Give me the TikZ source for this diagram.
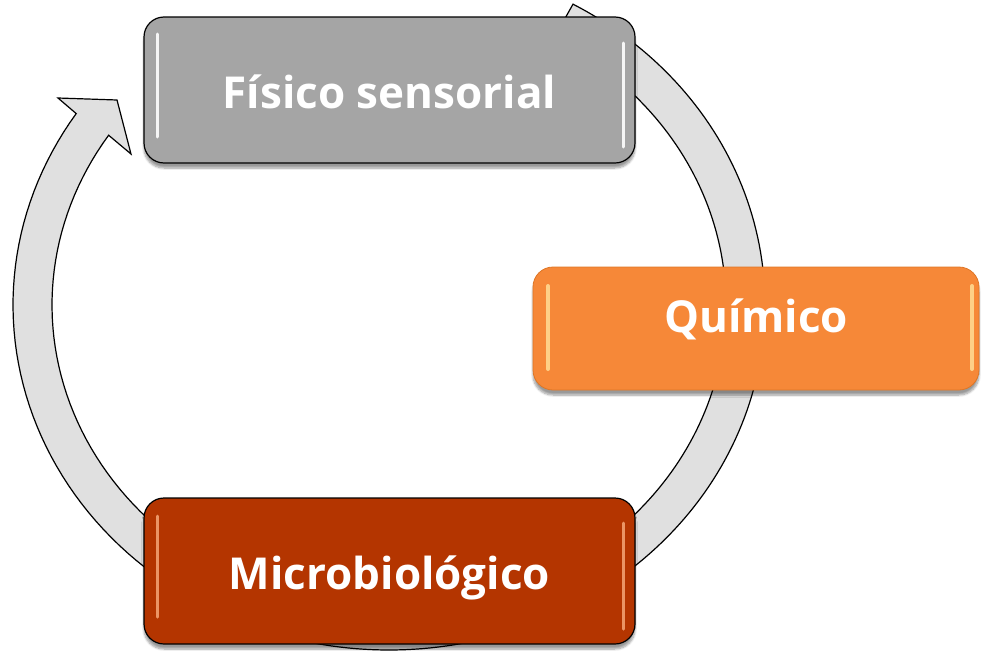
\documentclass[tikz,border=0pt]{standalone}
\usepackage{fontspec}
\setmainfont{Open Sans}
\usetikzlibrary{shadows.blur}
\definecolor{ringfill}{HTML}{E0E0E0}
\definecolor{fisfill}{HTML}{A5A5A5}
\definecolor{quifill}{HTML}{F68838}
\definecolor{micfill}{HTML}{B43500}
\definecolor{quiedge}{HTML}{DE7626}
\definecolor{quihl}{HTML}{FFD890}
\definecolor{michl}{HTML}{F2A070}
\begin{document}
\begin{tikzpicture}[x=1pt,y=-1pt,
  ring/.style={fill=ringfill, draw=black, line width=1.2pt, line join=miter},
  box/.style={rectangle, rounded corners=20pt, minimum width=491pt, minimum height=146pt,
    inner sep=0pt, text=white, text height=36pt, text depth=0pt,
    font=\fontsize{44}{50}\selectfont\bfseries,
    blur shadow={shadow xshift=0pt, shadow yshift=-5pt, shadow blur steps=8, shadow opacity=40}},
  hl/.style={line cap=round, line width=3pt, opacity=0.9}
]
\useasboundingbox (0,0) rectangle (987,656);
% cycle band
\draw[ring] plot[domain=125:213.7, samples=50] ({389+376*cos(\x)},{305+345*sin(\x)})
  -- (58,98) -- (117,100) -- (131,154)
  -- plot[domain=213.7:125, samples=50] ({389+337*cos(\x)},{305+306*sin(\x)}) -- cycle;
\draw[ring] plot[domain=299.3:488, samples=150] ({389+376*cos(\x)},{305+345*sin(\x)})
  -- plot[domain=488:299.3, samples=150] ({389+337*cos(\x)},{305+306*sin(\x)}) -- cycle;
% boxes
\node[box, fill=fisfill, draw=black, line width=1.2pt] (fis) at (389.5,90) {Físico sensorial};
\node[box, fill=quifill, draw=quiedge, line width=0.8pt, minimum width=446pt, minimum height=123pt, text depth=29pt] (qui) at (756,328.5) {Químico};
\node[box, fill=micfill, draw=black, line width=1.2pt] (mic) at (389.5,571) {Microbiológico};
% glossy highlights
\draw[hl, white] (157,34) -- (157,137);
\draw[hl, white] (623,43) -- (623,147);
\draw[hl, michl] (157,516) -- (157,617);
\draw[hl, michl] (623,523) -- (623,629);
\draw[hl, quihl, line width=4pt] (548,286) -- (548,369);
\draw[hl, quihl, line width=4pt] (972,286) -- (972,369);
\end{tikzpicture}
\end{document}
